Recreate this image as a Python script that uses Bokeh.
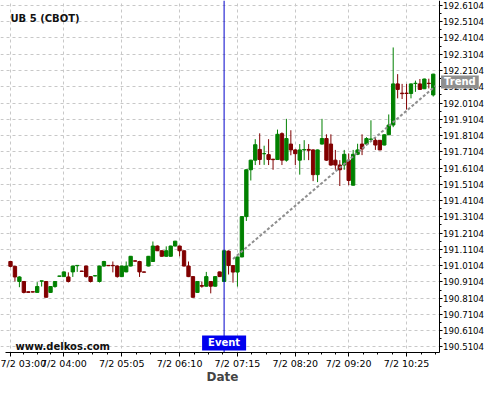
from bokeh.plotting import figure
from bokeh.models import (ColumnDataSource, FixedTicker, Label, PrintfTickFormatter,
                          BoxAnnotation)
from bokeh.embed import file_html
from bokeh.resources import INLINE

chart_title = "UB 5 (CBOT)"
watermark = "www.delkos.com"

# x ticks (candle index -> time label)
x_tick_idx = [0, 12, 25, 38, 51, 64, 76, 89]
x_tick_labels = ["7/2 03:00", "7/2 04:00", "7/2 05:05", "7/2 06:10",
                 "7/2 07:15", "7/2 08:20", "7/2 09:20", "7/2 10:25"]

y_ticks = [190.5104, 190.6104, 190.7104, 190.8104, 190.9104, 191.0104, 191.1104,
           191.2104, 191.3104, 191.4104, 191.5104, 191.6104, 191.7104, 191.8104,
           191.9104, 192.0104, 192.1104, 192.2104, 192.3104, 192.4104, 192.5104,
           192.6104]

open_ = [191.036, 191.006, 190.913, 190.913, 190.850, 190.850, 190.846, 190.915,
         190.913, 190.846, 190.882, 190.945, 190.943, 190.941, 190.972, 191.010,
         190.977, 191.008, 190.943, 190.947, 190.913, 191.008, 191.012, 191.012,
         191.008, 190.943, 190.972, 191.008, 191.040, 191.036, 190.972, 191.008,
         191.036, 191.131, 191.102, 191.068, 191.068, 191.131, 191.131, 191.102,
         191.008, 190.943, 190.846, 190.888, 190.884, 190.913, 190.884, 190.972,
         190.913, 191.100, 191.011, 190.971, 191.064, 191.312, 191.600, 191.659,
         191.725, 191.699, 191.693, 191.665, 191.663, 191.822, 191.659, 191.758,
         191.722, 191.659, 191.722, 191.725, 191.722, 191.570, 191.758, 191.792,
         191.758, 191.659, 191.629, 191.629, 191.659, 191.505, 191.695, 191.758,
         191.758, 191.787, 191.781, 191.781, 191.752, 191.815, 191.875, 192.128,
         192.071, 192.071, 192.069, 192.130, 192.128, 192.098, 192.132, 192.060]
high = [191.040, 191.010, 190.945, 190.915, 190.852, 190.852, 190.909, 190.917,
        190.916, 190.885, 190.913, 190.947, 190.975, 190.969, 191.010, 191.012,
        190.979, 191.010, 190.945, 190.949, 191.010, 191.040, 191.014, 191.036,
        191.012, 191.010, 191.036, 191.070, 191.042, 191.040, 190.974, 191.070,
        191.159, 191.135, 191.104, 191.129, 191.133, 191.163, 191.133, 191.104,
        191.036, 190.945, 190.915, 190.913, 190.972, 190.915, 190.945, 190.974,
        191.104, 191.104, 191.013, 191.066, 191.314, 191.602, 191.661, 191.788,
        191.824, 191.748, 191.788, 191.667, 191.847, 191.830, 191.913, 191.843,
        191.726, 191.758, 191.782, 191.758, 191.726, 191.724, 191.913, 191.818,
        191.818, 191.722, 191.659, 191.722, 191.700, 191.722, 191.760, 191.818,
        191.800, 191.904, 191.800, 191.783, 191.818, 191.940, 192.352, 192.188,
        192.128, 192.128, 192.130, 192.148, 192.158, 192.160, 192.160, 192.190]
low = [191.000, 190.913, 190.878, 190.840, 190.846, 190.846, 190.846, 190.882,
       190.816, 190.843, 190.875, 190.943, 190.943, 190.907, 190.941, 190.972,
       190.975, 190.937, 190.907, 190.945, 190.907, 191.004, 191.008, 190.969,
       190.937, 190.940, 190.970, 191.006, 191.036, 190.941, 190.970, 191.006,
       191.036, 191.100, 191.066, 191.066, 191.066, 191.129, 191.068, 191.006,
       190.940, 190.814, 190.843, 190.875, 190.882, 190.840, 190.882, 190.941,
       190.911, 190.956, 190.906, 190.882, 191.062, 191.285, 191.534, 191.629,
       191.630, 191.630, 191.629, 191.600, 191.660, 191.629, 191.650, 191.689,
       191.629, 191.570, 191.659, 191.659, 191.530, 191.524, 191.755, 191.655,
       191.625, 191.600, 191.500, 191.600, 191.505, 191.503, 191.690, 191.690,
       191.750, 191.770, 191.722, 191.720, 191.750, 191.813, 191.862, 192.039,
       192.035, 191.970, 192.039, 192.079, 192.092, 192.096, 192.100, 192.050]
close = [191.006, 190.941, 190.941, 190.846, 190.846, 190.848, 190.882, 190.917,
         190.816, 190.882, 190.913, 190.947, 190.972, 190.913, 191.008, 191.012,
         190.975, 190.943, 190.913, 190.949, 191.008, 191.036, 191.010, 191.010,
         190.943, 191.008, 191.008, 191.068, 191.038, 190.972, 190.970, 191.068,
         191.131, 191.102, 191.068, 191.102, 191.131, 191.161, 191.102, 191.008,
         190.943, 190.816, 190.913, 190.884, 190.943, 190.884, 190.943, 190.943,
         191.102, 191.011, 190.971, 191.064, 191.312, 191.600, 191.659, 191.754,
         191.663, 191.699, 191.663, 191.662, 191.818, 191.659, 191.792, 191.722,
         191.699, 191.722, 191.724, 191.720, 191.570, 191.722, 191.792, 191.659,
         191.629, 191.629, 191.600, 191.695, 191.534, 191.695, 191.722, 191.728,
         191.792, 191.789, 191.752, 191.722, 191.815, 191.875, 192.128, 192.094,
         192.068, 192.069, 192.128, 192.132, 192.094, 192.158, 192.130, 192.188]

event_idx = 48
trend_x = [50, 95.5]
trend_y = [191.051, 192.115]
trend_label_price = 192.14

UP = "#008000"
DOWN = "#800000"
FONT = "DejaVu Sans"

# plot geometry (index / price space)
X_LO, X_HI = -2.247, 106.517      # whole canvas width
Y_LO, Y_HI = 190.2797, 192.6407    # whole canvas height
X_AXIS_PRICE = 190.4765            # where the time axis sits
Y_AXIS_IDX = 96.3                  # where the price axis sits
PX_Y = (Y_HI - Y_LO) / 384.0

idx = list(range(len(open_)))
colors = [UP if c >= o else DOWN for o, c in zip(open_, close)]
src = ColumnDataSource(dict(
    x=idx, high=high, low=low,
    top=[max(o, c) for o, c in zip(open_, close)],
    bottom=[min(o, c) for o, c in zip(open_, close)],
    color=colors))

p = figure(width=484, height=384, x_range=(X_LO, X_HI), y_range=(Y_LO, Y_HI),
           y_axis_location="right", toolbar_location=None, output_backend="svg",
           min_border_left=0, min_border_top=0, min_border_right=0, min_border_bottom=0)
p.outline_line_color = None
p.background_fill_color = "white"
p.border_fill_color = "white"

# grids
p.grid.grid_line_color = "#c8c8c8"
p.grid.grid_line_dash = "3 3"
p.grid.grid_line_width = 1

# masks so grid lines stop at the axes
p.add_layout(BoxAnnotation(left=Y_AXIS_IDX, fill_color="white", fill_alpha=1,
                           line_alpha=0, level="underlay"))
p.add_layout(BoxAnnotation(top=X_AXIS_PRICE, fill_color="white", fill_alpha=1,
                           line_alpha=0, level="underlay"))

# x axis
minor = []
for a, b in zip(x_tick_idx[:-1], x_tick_idx[1:]):
    minor += [a + (b - a) * k / 4 for k in (1, 2, 3)]
minor += [x_tick_idx[-1] + 3.25, x_tick_idx[-1] + 6.5]
xa = p.xaxis[0]
xa.fixed_location = X_AXIS_PRICE
xa.bounds = (-1.1, Y_AXIS_IDX)
xa.ticker = FixedTicker(ticks=x_tick_idx, minor_ticks=minor)
xa.major_label_overrides = {t: l for t, l in zip(x_tick_idx, x_tick_labels)}
xa.major_label_text_font = FONT
xa.major_label_text_font_size = "9.5px"
xa.major_label_text_color = "black"
xa.major_label_standoff = 2
xa.major_tick_out = 4
xa.major_tick_in = 0
xa.minor_tick_out = 2
xa.minor_tick_in = 0
xa.axis_label = "Date"
xa.axis_label_text_font = FONT
xa.axis_label_text_font_style = "bold"
xa.axis_label_text_font_size = "12px"
xa.axis_label_standoff = -3
xa.axis_line_color = "black"

# y axis
ya = p.yaxis[0]
ya.fixed_location = Y_AXIS_IDX
ya.bounds = (X_AXIS_PRICE, Y_HI)
ya_minor = [v + 0.05 for v in y_ticks[:-1]]
ya.ticker = FixedTicker(ticks=y_ticks, minor_ticks=ya_minor)
ya.formatter = PrintfTickFormatter(format="%.4f")
ya.major_label_text_font = FONT
ya.major_label_text_font_size = "8.6px"
ya.major_label_text_color = "black"
ya.major_label_standoff = 1
ya.major_tick_out = 3
ya.major_tick_in = 0
ya.minor_tick_out = 2
ya.minor_tick_in = 0
ya.axis_line_color = "black"

# candles
p.segment(x0="x", x1="x", y0="low", y1="high", color="color", line_width=1, source=src)
p.vbar(x="x", width=0.75, top="top", bottom="bottom", fill_color="color",
       line_color="color", line_width=1, source=src)

# trend line
p.line(trend_x, trend_y, line_color="#8f8f8f", line_width=2, line_dash="3 2")

# event line (from the time axis to the top)
p.segment(x0=[event_idx], x1=[event_idx], y0=[X_AXIS_PRICE], y1=[Y_HI],
          line_color="#0000cc", line_width=1)

p.add_layout(Label(x=10, y=192.527, x_units="screen", text=chart_title,
                   text_font=FONT, text_font_style="bold", text_font_size="10px",
                   text_color="#111111", text_baseline="alphabetic"))
p.add_layout(Label(x=15, y=X_AXIS_PRICE + 6 * PX_Y, x_units="screen", text=watermark,
                   text_font=FONT, text_font_style="bold", text_font_size="10px",
                   text_color="#111111", text_baseline="alphabetic"))
p.add_layout(Label(x=event_idx, y=X_AXIS_PRICE + 2 * PX_Y, text="Event",
                   text_font=FONT, text_font_style="bold", text_font_size="10px",
                   text_color="white", text_align="center", text_baseline="bottom",
                   background_fill_color="#0000ee", padding=(6, 2)))
p.add_layout(Label(x=Y_AXIS_IDX + 0.45, y=trend_label_price, text="Trend",
                   text_font=FONT, text_font_style="bold", text_font_size="10px",
                   text_color="white", text_align="left", text_baseline="middle",
                   background_fill_color="#8f8f8f", padding=(3, 1)))

open("out.html", "w").write(file_html(p, INLINE))
